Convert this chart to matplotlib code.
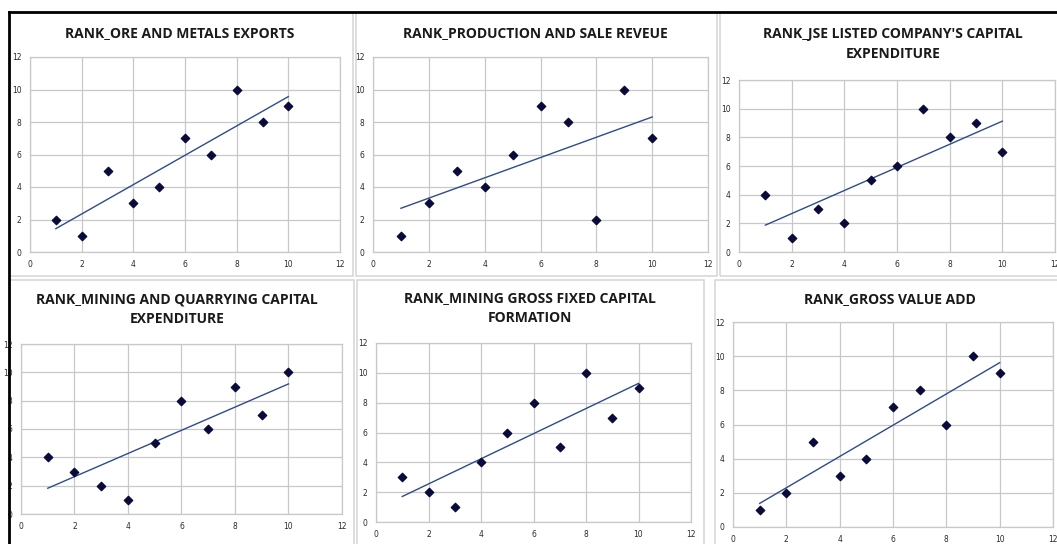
import numpy as np
import matplotlib.pyplot as plt
from matplotlib.patches import Rectangle
from matplotlib.lines import Line2D

W, H = 1057, 544

# Ranks (x = 1..10) for each panel
rank = [1, 2, 3, 4, 5, 6, 7, 8, 9, 10]
ore_metals = [2, 1, 5, 3, 4, 7, 6, 10, 8, 9]
production = [1, 3, 5, 4, 6, 9, 8, 2, 10, 7]
jse_capex = [4, 1, 3, 2, 5, 6, 10, 8, 9, 7]
quarry_capex = [4, 3, 2, 1, 5, 8, 6, 9, 7, 10]
gfcf = [3, 2, 1, 4, 6, 8, 5, 10, 7, 9]
gva = [1, 2, 5, 3, 4, 7, 8, 6, 10, 9]

titles = [
    "RANK_ORE AND METALS EXPORTS",
    "RANK_PRODUCTION AND SALE REVEUE",
    "RANK_JSE LISTED COMPANY'S CAPITAL\nEXPENDITURE",
    "RANK_MINING AND QUARRYING CAPITAL\nEXPENDITURE",
    "RANK_MINING GROSS FIXED CAPITAL\nFORMATION",
    "RANK_GROSS VALUE ADD",
]
series = [ore_metals, production, jse_capex, quarry_capex, gfcf, gva]

# pixel boxes: plot area (x0, x1, ytop, ybot), frame (x0, x1, ytop, ybot), title (cx, cy)
plot_px = [(30, 340, 57, 252), (373, 708, 57, 252), (739, 1055, 80, 252),
           (21, 342, 344, 514), (376, 691, 343, 522), (733, 1053, 322, 527)]
frame_px = [(10, 353, 12, 276), (356, 717, 12, 276), (720, 1060, 12, 276),
            (10, 354, 280, 550), (357, 704, 280, 550), (715, 1060, 280, 550)]
title_px = [(180, 33), (535, 33), (893, 44), (177, 309), (530, 308), (890, 299)]

fig = plt.figure(figsize=(W / 100, H / 100), dpi=100)
fig.patch.set_facecolor('white')

# chart frames
for (x0, x1, yt, yb) in frame_px:
    fig.patches.append(Rectangle((x0 / W, 1 - yb / H), (x1 - x0) / W, (yb - yt) / H,
                                 transform=fig.transFigure, fill=False,
                                 edgecolor='#d4d4d4', lw=1.1))
fig.lines.append(Line2D([9 / W, 1], [1 - 12 / H] * 2, transform=fig.transFigure,
                        color='black', lw=2))
fig.lines.append(Line2D([9 / W] * 2, [0, 1 - 12 / H], transform=fig.transFigure,
                        color='black', lw=2))

for i, ys in enumerate(series):
    x0, x1, yt, yb = plot_px[i]
    ax = fig.add_axes([x0 / W, 1 - yb / H, (x1 - x0) / W, (yb - yt) / H])
    ax.set_xlim(0, 12)
    ax.set_ylim(0, 12)
    ax.set_xticks(range(0, 13, 2))
    ax.set_yticks(range(0, 13, 2))
    ax.grid(True, color='#c8c8c8', lw=0.9)
    ax.set_axisbelow(True)
    for s in ax.spines.values():
        s.set_color('#c8c8c8')
        s.set_linewidth(0.9)
    ax.tick_params(length=0, labelsize=5.5, labelcolor='#2a2a2a', pad=6)
    ax.scatter(rank, ys, marker='D', s=18, color='#0b0b3b', zorder=3)
    m, b = np.polyfit(rank, ys, 1)
    xx = np.array([rank[0], rank[-1]])
    ax.plot(xx, m * xx + b, color='#2f4b8c', lw=1.0, zorder=2)
    cx, cy = title_px[i]
    fig.text(cx / W, 1 - cy / H, titles[i], ha='center', va='center',
             fontsize=10, fontweight='bold', family='Open Sans',
             color='#1a1a1a', linespacing=1.5)

fig.savefig('out.png', dpi=100)
